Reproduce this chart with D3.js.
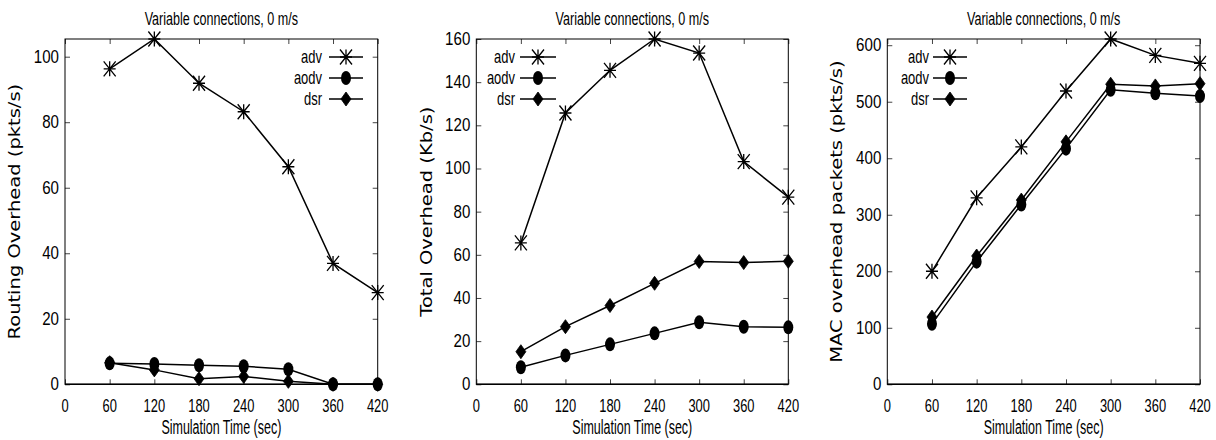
<!DOCTYPE html>
<html>
<head>
<meta charset="utf-8">
<script src="https://cdn.jsdelivr.net/npm/d3@7"></script>
<style>
  html, body { margin: 0; padding: 0; background: #fff; }
  svg { display: block; }
</style>
</head>
<body>
<svg id="chart" width="1216" height="440"></svg>
<script>
// ---- data ----
const times = [60, 120, 180, 240, 300, 360, 420];
const xTicks = [0, 60, 120, 180, 240, 300, 360, 420];
const seriesNames = ["adv", "aodv", "dsr"];
const titleText = "Variable connections, 0 m/s";
const xLabelText = "Simulation Time (sec)";

// Routing overhead (pkts/s)
const routingAdv  = [96.3, 105.4, 91.9, 83.2, 66.4, 36.9, 28.0];
const routingAodv = [6.4, 6.2, 5.8, 5.5, 4.6, 0, 0];
const routingDsr  = [6.6, 4.4, 1.7, 2.4, 0.9, 0, 0];
const routingTicks = [0, 20, 40, 60, 80, 100];

// Total overhead (Kb/s)
const totalAdv  = [65.5, 125.7, 145.5, 160, 153.5, 103.2, 86.7];
const totalAodv = [7.9, 13.4, 18.5, 23.6, 28.7, 26.7, 26.4];
const totalDsr  = [15.1, 26.7, 36.5, 46.8, 56.9, 56.4, 57.0];
const totalTicks = [0, 20, 40, 60, 80, 100, 120, 140, 160];

// MAC overhead packets (pkts/s)
const macAdv  = [200, 330, 420, 519, 611, 582, 568];
const macAodv = [107, 217, 318, 417, 521, 515, 510];
const macDsr  = [119, 227, 326, 429, 531, 528, 532];
const macTicks = [0, 100, 200, 300, 400, 500, 600];

const yLabels = ["Routing Overhead (pkts/s)", "Total Overhead (Kb/s)", "MAC overhead packets (pkts/s)"];

// ---- layout ----
const plotTop = 39, plotBottom = 384.3;
const panels = [
  { series: [routingAdv, routingAodv, routingDsr], ticks: routingTicks, ylabel: yLabels[0],
    left: 65, right: 377.7, ylabelX: 15, legLine: [329, 363], legText: 322 },
  { series: [totalAdv, totalAodv, totalDsr], ticks: totalTicks, ylabel: yLabels[1],
    left: 476.3, right: 788.3, ylabelX: 427, legLine: [520, 556], legText: 515 },
  { series: [macAdv, macAodv, macDsr], ticks: macTicks, ylabel: yLabels[2],
    left: 887.3, right: 1200, ylabelX: 837, legLine: [933, 967], legText: 929 }
];
const legendY = [57, 78, 99];
const markerKinds = ["star", "circle", "diamond"];

const svg = d3.select("#chart");
const sans = "'Liberation Sans', Arial, Helvetica, sans-serif";

// text squeezed horizontally, as in the printed figure
function label(g, x, y, str, o) {
  return g.append("text")
    .attr("transform", `translate(${x},${y}) scale(${o.sx},1)` + (o.rotate ? ` rotate(${o.rotate})` : ""))
    .attr("text-anchor", o.anchor || "middle")
    .attr("dominant-baseline", o.baseline || "auto")
    .style("font-family", o.family || sans)
    .style("font-size", o.size + "px")
    .attr("fill", "#000")
    .text(str);
}

function marker(g, kind, cx, cy) {
  if (kind === "star") {
    const hw = 6, hh = 7.5;
    g.append("path")
      .attr("d", `M${cx - hw},${cy - hh}L${cx + hw},${cy + hh}M${cx - hw},${cy + hh}L${cx + hw},${cy - hh}` +
                 `M${cx},${cy - hh}L${cx},${cy + hh}M${cx - hw},${cy}L${cx + hw},${cy}`)
      .attr("stroke", "#000").attr("stroke-width", 1.3).attr("fill", "none");
  } else if (kind === "circle") {
    g.append("ellipse").attr("cx", cx).attr("cy", cy).attr("rx", 5).attr("ry", 7).attr("fill", "#000");
  } else {
    const hw = 5, hh = 7;
    g.append("path")
      .attr("d", `M${cx},${cy - hh}L${cx + hw},${cy}L${cx},${cy + hh}L${cx - hw},${cy}Z`)
      .attr("fill", "#000").attr("stroke", "#000").attr("stroke-width", 0.8).attr("stroke-linejoin", "round");
  }
}

panels.forEach(p => {
  const g = svg.append("g");
  const x = d3.scaleLinear().domain([0, 420]).range([p.left, p.right]);
  const ymax = d3.max(p.series.flat());
  const y = d3.scaleLinear().domain([0, ymax]).range([plotBottom, plotTop]);

  // inward ticks on all four sides
  const tickStyle = sel => {
    sel.select(".domain").remove();
    sel.selectAll(".tick line").attr("stroke", "#444").attr("stroke-width", 1);
    sel.selectAll(".tick text").remove();
  };
  g.append("g").attr("transform", `translate(0,${plotBottom})`)
    .call(d3.axisBottom(x).tickValues(xTicks).tickSize(-5).tickFormat("")).call(tickStyle);
  g.append("g").attr("transform", `translate(0,${plotTop})`)
    .call(d3.axisTop(x).tickValues(xTicks).tickSize(-5).tickFormat("")).call(tickStyle);
  g.append("g").attr("transform", `translate(${p.left},0)`)
    .call(d3.axisLeft(y).tickValues(p.ticks).tickSize(-5).tickFormat("")).call(tickStyle);
  g.append("g").attr("transform", `translate(${p.right},0)`)
    .call(d3.axisRight(y).tickValues(p.ticks).tickSize(-5).tickFormat("")).call(tickStyle);

  // frame
  g.append("rect")
    .attr("x", p.left).attr("y", plotTop)
    .attr("width", p.right - p.left).attr("height", plotBottom - plotTop)
    .attr("fill", "none").attr("stroke", "#000").attr("stroke-width", 1);
  g.append("line")
    .attr("x1", p.left).attr("x2", p.right).attr("y1", plotBottom).attr("y2", plotBottom)
    .attr("stroke", "#000").attr("stroke-width", 1.6);

  // tick labels
  p.ticks.forEach(v => label(g, p.left - 6, y(v), String(v), { size: 18, sx: 0.84, anchor: "end", baseline: "central" }));
  xTicks.forEach(v => label(g, x(v), 412, String(v), { size: 19, sx: 0.68 }));

  // titles
  label(g, (p.left + p.right) / 2, 25, titleText, { size: 18.5, sx: 0.68 });
  label(g, (p.left + p.right) / 2, 434, xLabelText, { size: 19.5, sx: 0.64 });
  label(g, p.ylabelX, (plotTop + plotBottom) / 2, p.ylabel,
        { size: 19.5, sx: 0.8, rotate: -90, baseline: "central", family: "'DejaVu Sans', Verdana, sans-serif" });

  // series lines and markers
  const line = d3.line().x((d, i) => x(times[i])).y(d => y(d));
  p.series.forEach(vals => {
    g.append("path").datum(vals).attr("d", line)
      .attr("fill", "none").attr("stroke", "#000").attr("stroke-width", 1.5);
  });
  p.series.forEach((vals, si) => {
    vals.forEach((v, i) => marker(g, markerKinds[si], x(times[i]), y(v)));
  });

  // legend
  seriesNames.forEach((name, si) => {
    const ly = legendY[si];
    g.append("line").attr("x1", p.legLine[0]).attr("x2", p.legLine[1]).attr("y1", ly).attr("y2", ly)
      .attr("stroke", "#000").attr("stroke-width", 1.5);
    marker(g, markerKinds[si], (p.legLine[0] + p.legLine[1]) / 2, ly);
    label(g, p.legText, ly, name, { size: 18, sx: 0.72, anchor: "end", baseline: "central" });
  });
});
</script>
</body>
</html>
